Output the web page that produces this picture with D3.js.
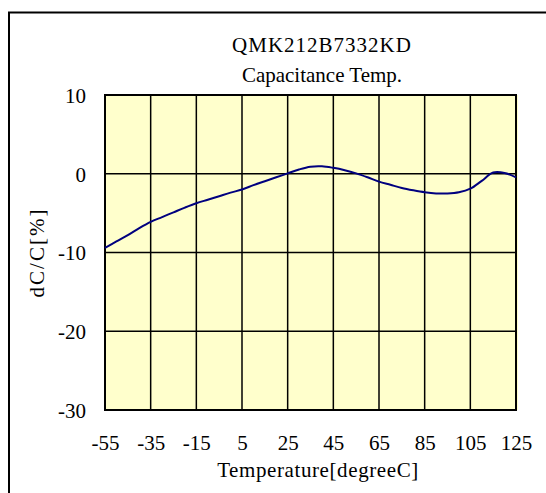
<!DOCTYPE html>
<html><head><meta charset="utf-8">
<script src="https://cdn.jsdelivr.net/npm/d3@7"></script>
<style>
html,body{margin:0;padding:0;background:#fff;}
svg{display:block;}
text{font-family:"Liberation Serif","Times New Roman",serif;fill:#000;}
</style></head>
<body>
<svg id="chart" width="546" height="493"></svg>
<script>
const titleLines = ["QMK212B7332KD", "Capacitance Temp."];
const xLabel = "Temperature[degreeC]";
const yLabel = "dC/C[%]";
const xTicks = [-55, -35, -15, 5, 25, 45, 65, 85, 105, 125];
const yTicks = [10, 0, -10, -20, -30];
const temps = [-55,-50,-45,-40,-35,-30,-25,-20,-15,-10,-5,0,5,10,15,20,25,30,35,40,45,50,55,60,65,70,75,80,85,90,95,100,105,110,115,120,125];
const dC = [-9.4,-8.6,-7.8,-6.9,-6.1,-5.5,-4.9,-4.3,-3.75,-3.3,-2.85,-2.4,-2.0,-1.45,-0.95,-0.45,0.05,0.55,0.9,0.95,0.75,0.45,0.05,-0.45,-1.0,-1.4,-1.8,-2.1,-2.35,-2.5,-2.5,-2.35,-1.9,-0.9,0.15,0.1,-0.45];

const svg = d3.select("#chart");
const L = 105, R = 516, T = 95, B = 410;
const x = d3.scaleLinear().domain([-55, 125]).range([L, R]);
const y = d3.scaleLinear().domain([-30, 10]).range([B, T]);

// outer frame (only left and top visible)
svg.append("rect").attr("x", 9).attr("y", 12.5).attr("width", 560).attr("height", 500)
  .attr("fill", "none").attr("stroke", "#000").attr("stroke-width", 2);

// plot background
svg.append("rect").attr("x", L).attr("y", T).attr("width", R - L + 2).attr("height", B - T)
  .attr("fill", "#FFFFCC");

// gridlines
svg.append("g").selectAll("line").data(xTicks).join("line")
  .attr("x1", d => x(d)).attr("x2", d => x(d)).attr("y1", T).attr("y2", B)
  .attr("stroke", "#000").attr("stroke-width", 1.5);
svg.append("g").selectAll("line").data(yTicks).join("line")
  .attr("x1", L).attr("x2", R).attr("y1", d => y(d)).attr("y2", d => y(d))
  .attr("stroke", "#000").attr("stroke-width", 1.5);

// plot border
svg.append("rect").attr("x", L).attr("y", T).attr("width", R - L).attr("height", B - T)
  .attr("fill", "none").attr("stroke", "#000").attr("stroke-width", 2);

// curve
const line = d3.line().x((d, i) => x(temps[i])).y(d => y(d)).curve(d3.curveCatmullRom.alpha(0.5));
svg.append("path").datum(dC).attr("d", line)
  .attr("fill", "none").attr("stroke", "#00007F").attr("stroke-width", 2);

// axes labels via d3 axes
const fmt = d => String(d);
const xAxis = d3.axisBottom(x).tickValues(xTicks).tickSize(0).tickPadding(0).tickFormat(fmt);
const gx = svg.append("g").attr("transform", `translate(0,${B})`).call(xAxis);
gx.select(".domain").remove();
gx.selectAll("text").attr("y", 40).attr("dy", 0).style("font-size", "21px").style("font-family", "Liberation Serif");

const yAxis = d3.axisLeft(y).tickValues(yTicks).tickSize(0).tickPadding(0).tickFormat(fmt);
const gy = svg.append("g").attr("transform", `translate(${L - 19},0)`).call(yAxis);
gy.select(".domain").remove();
gy.selectAll("text").attr("x", 0).attr("dy", "0.35em").style("font-size", "21px").style("font-family", "Liberation Serif");

// titles
svg.append("g").selectAll("text").data(titleLines).join("text")
  .attr("x", 322).attr("y", (d, i) => 52 + i * 30).attr("text-anchor", "middle")
  .style("font-size", "21px").style("letter-spacing", (d, i) => i === 0 ? "1px" : "0px").text(d => d);

svg.append("text").attr("x", 318).attr("y", 477).attr("text-anchor", "middle")
  .style("font-size", "21px").style("letter-spacing", "0.6px").text(xLabel);

svg.append("text").attr("transform", `translate(44,${(T + B) / 2}) rotate(-90)`)
  .attr("text-anchor", "middle").style("font-size", "21px").style("letter-spacing", "2px").text(yLabel);
</script>
</body></html>
